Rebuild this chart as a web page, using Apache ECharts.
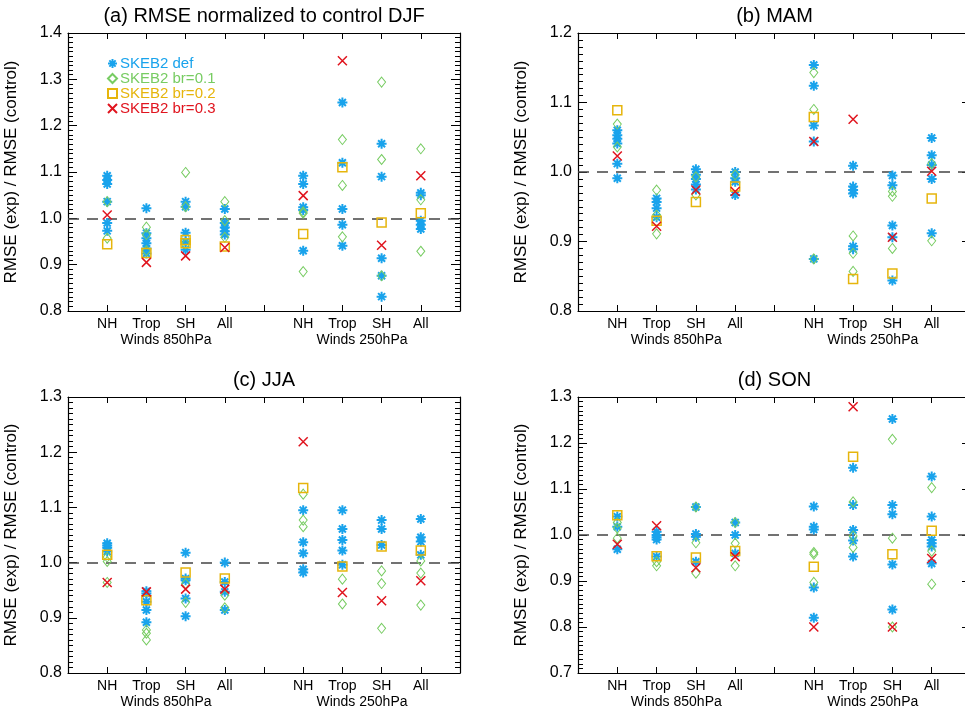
<!DOCTYPE html>
<html>
<head>
<meta charset="utf-8">
<script src="https://cdn.jsdelivr.net/npm/echarts@6/dist/echarts.min.js"></script>
<style>
html, body { margin: 0; padding: 0; background: #fff; }
#main { width: 965px; height: 710px; }
</style>
</head>
<body>
<div id="main"></div>
<script>
// x axis: categories sit at 1..4 and 6..9 on a 0..10 value axis
var xTickLabels = ['', 'NH', 'Trop', 'SH', 'All', '', 'NH', 'Trop', 'SH', 'All', ''];
var catPos = [1, 2, 3, 4, 6, 7, 8, 9];
var groupLabels = { '2.5': 'Winds 850hPa', '7.5': 'Winds 250hPa' };
var seriesNames = ['SKEB2 def', 'SKEB2 br=0.1', 'SKEB2 br=0.2', 'SKEB2 br=0.3'];
var panelTitles = ['(a) RMSE normalized to control DJF', '(b) MAM', '(c) JJA', '(d) SON'];
var yMin = [0.8, 0.8, 0.8, 0.7];
var yMax = [1.4, 1.2, 1.3, 1.3];
var refValue = 1.0;

// one sub-array per category: NH, Trop, SH, All (850hPa) then NH, Trop, SH, All (250hPa)
var djfDef = [[1.092, 1.083, 1.074, 1.036, 0.99, 0.973], [1.022, 0.968, 0.957, 0.946, 0.935, 0.924], [1.036, 1.025, 0.969, 0.95, 0.932], [1.02, 0.99, 0.98, 0.972, 0.965],
              [1.092, 1.074, 1.024, 1.018, 0.93], [1.25, 1.12, 1.02, 0.986, 0.941], [1.161, 1.09, 0.914, 0.876, 0.831], [1.055, 1.05, 0.995, 0.986, 0.977]];
var djfBr1 = [[1.036, 0.957], [0.981, 0.965, 0.93], [1.099, 1.025, 0.945], [1.036, 0.995, 0.959],
              [1.014, 1.011, 0.885], [1.17, 1.071, 0.96], [1.294, 1.127, 0.876], [1.15, 1.04, 0.929]];
var djfBr2 = [[0.944], [0.925], [0.953, 0.946], [0.939], [0.966], [1.11], [0.991], [1.011]];
var djfBr3 = [[1.007], [0.905], [0.919], [0.937], [1.049], [1.34], [0.942], [1.092]];

var mamDef = [[1.06, 1.053, 1.048, 1.041, 1.012, 0.991], [0.962, 0.957, 0.948, 0.935], [1.004, 0.996, 0.99, 0.982, 0.975], [1.0, 0.991, 0.986, 0.967],
              [1.154, 1.124, 1.067, 1.044, 0.875], [1.009, 0.979, 0.974, 0.969, 0.893, 0.889], [0.995, 0.981, 0.923, 0.906, 0.844], [1.049, 1.024, 1.01, 0.99, 0.912]];
var mamBr1 = [[1.069, 1.036], [0.974, 0.938, 0.911], [0.993, 0.967], [0.996],
              [1.143, 1.09, 0.875], [0.908, 0.883, 0.857], [0.972, 0.965, 0.89], [1.012, 0.901]];
var mamBr2 = [[1.089], [0.93], [0.957], [0.979], [1.079], [0.846], [0.854], [0.962]];
var mamBr3 = [[1.023], [0.922], [0.974], [0.972], [1.044], [1.076], [0.906], [1.001]];

var jjaDef = [[1.035, 1.031, 1.027, 1.02], [0.948, 0.944, 0.929, 0.914, 0.892], [1.018, 0.971, 0.968, 0.935, 0.903], [1.0, 0.965, 0.947, 0.914],
              [1.095, 1.037, 1.017, 0.988, 0.982], [1.095, 1.061, 1.041, 1.022, 0.996], [1.077, 1.061, 1.032], [1.079, 1.046, 1.038, 1.014]];
var jjaBr1 = [[1.01, 1.002, 0.964], [0.878, 0.872, 0.86], [0.962, 0.928], [0.941, 0.918],
              [1.124, 1.077, 1.065], [0.97, 0.925], [0.985, 0.962, 0.881], [1.003, 0.981, 0.923]];
var jjaBr2 = [[1.014], [0.932], [0.982], [0.971], [1.135], [0.993], [1.029], [1.022]];
var jjaBr3 = [[0.964], [0.947], [0.952], [0.952], [1.219], [0.946], [0.931], [0.967]];

var sonDef = [[1.04, 1.018, 0.969], [1.007, 1.0, 0.995, 0.99, 0.953], [1.061, 1.002, 0.996, 0.942], [1.027, 1.0, 0.96],
              [1.062, 1.018, 1.012, 0.886, 0.82], [1.146, 1.065, 1.011, 0.988, 0.953], [1.252, 1.065, 1.045, 0.936, 0.838], [1.127, 1.04, 0.989, 0.982, 0.975, 0.938]];
var sonBr1 = [[1.027, 1.015, 0.993], [0.942, 0.933], [1.061, 0.983, 0.917], [1.027, 0.982, 0.933],
              [0.962, 0.958, 0.897], [1.072, 0.998, 0.973], [1.208, 0.993, 0.8], [1.103, 0.965, 0.893]];
var sonBr2 = [[1.043], [0.954], [0.951], [0.965], [0.931], [1.17], [0.958], [1.009]];
var sonBr3 = [[0.98], [1.02], [0.929], [0.953], [0.8], [1.279], [0.8], [0.949]];

var panelData = [
  [djfDef, djfBr1, djfBr2, djfBr3],
  [mamDef, mamBr1, mamBr2, mamBr3],
  [jjaDef, jjaBr1, jjaBr2, jjaBr3],
  [sonDef, sonBr1, sonBr2, sonBr3]
];

var FONT = '"Liberation Sans", Helvetica, Arial, sans-serif';
var colors = ['#19a3ec', '#77cc62', '#e6b50c', '#e0141e'];
var symbols = [
  'path://M0,-10L0,10M-10,0L10,0M-7,-7L7,7M-7,7L7,-7',
  'diamond',
  'rect',
  'path://M-10,-10L10,10M-10,10L10,-10'
];
var symbolSizes = [[10, 10], [8, 10], [9, 9], [9, 9]];
var borderWidths = [2, 1, 1.5, 1.5];

var grids = [
  { left: 68, top: 33, width: 392, height: 278 },
  { left: 578, top: 33, width: 393, height: 278 },
  { left: 68, top: 397, width: 392, height: 276 },
  { left: 578, top: 397, width: 393, height: 276 }
];

var chart = echarts.init(document.getElementById('main'));

var option = {
  animation: false,
  backgroundColor: '#fff',
  textStyle: { fontFamily: FONT },
  title: [],
  grid: [],
  xAxis: [],
  yAxis: [],
  legend: {
    orient: 'vertical',
    left: 102,
    top: 51,
    itemWidth: 9,
    itemHeight: 9,
    itemGap: 0,
    selectedMode: false,
    textStyle: { fontSize: 15, fontFamily: FONT, padding: [0, 0, 0, -2] },
    data: seriesNames.map(function (n, i) {
      return { name: n, textStyle: { color: colors[i] } };
    })
  },
  series: []
};

var axisLine = { show: true, onZero: false, lineStyle: { color: '#000', width: 1.2 } };
var tickStyle = { color: '#000', width: 1 };

grids.forEach(function (g, p) {
  option.grid.push({ left: g.left, top: g.top, width: g.width, height: g.height, outerBoundsMode: 'none', containLabel: false });
  option.title.push({
    text: panelTitles[p],
    left: g.left + g.width / 2,
    top: g.top - 27,
    textAlign: 'center',
    padding: 0,
    textStyle: { fontSize: 20, fontWeight: 'normal', color: '#000', fontFamily: FONT }
  });

  // bottom axis with region labels
  option.xAxis.push({
    type: 'value', gridIndex: p, position: 'bottom', min: 0, max: 10, interval: 1,
    axisLine: axisLine,
    axisTick: { show: true, inside: true, length: 6, lineStyle: tickStyle },
    splitLine: { show: false },
    axisLabel: {
      color: '#000', fontSize: 14, fontFamily: FONT, margin: 6, showMinLabel: true, showMaxLabel: true,
      formatter: function (v) { return xTickLabels[Math.round(v)] || ''; }
    }
  });
  // group labels under the region labels
  option.xAxis.push({
    type: 'value', gridIndex: p, position: 'bottom', offset: 0, min: 0, max: 10, interval: 2.5,
    axisLine: { show: false }, axisTick: { show: false }, splitLine: { show: false },
    axisLabel: {
      color: '#000', fontSize: 14, fontFamily: FONT, margin: 22, showMinLabel: true, showMaxLabel: true,
      formatter: function (v) { return groupLabels[String(v)] || ''; }
    }
  });
  // mirrored top axis
  option.xAxis.push({
    type: 'value', gridIndex: p, position: 'top', min: 0, max: 10, interval: 1,
    axisLine: axisLine,
    axisTick: { show: true, inside: true, length: 6, lineStyle: tickStyle },
    splitLine: { show: false }, axisLabel: { show: false }
  });

  option.yAxis.push({
    type: 'value', gridIndex: p, position: 'left', min: yMin[p], max: yMax[p], interval: 0.1,
    name: 'RMSE (exp) / RMSE (control)', nameLocation: 'middle', nameGap: 48, nameRotate: 90,
    nameTextStyle: { fontSize: 17, color: '#000', fontFamily: FONT },
    axisLine: axisLine,
    axisTick: { show: true, inside: true, length: 9, lineStyle: tickStyle },
    minorTick: { show: true, splitNumber: 10, length: 5, lineStyle: tickStyle },
    splitLine: { show: false }, minorSplitLine: { show: false },
    axisLabel: {
      color: '#000', fontSize: 16, fontFamily: FONT, margin: 6, showMinLabel: true, showMaxLabel: true,
      formatter: function (v) { return v.toFixed(1); }
    }
  });
  option.yAxis.push({
    type: 'value', gridIndex: p, position: 'right', min: yMin[p], max: yMax[p], interval: 0.1,
    axisLine: axisLine,
    axisTick: { show: true, inside: true, length: 9, lineStyle: tickStyle },
    minorTick: { show: true, splitNumber: 10, length: 5, lineStyle: tickStyle },
    splitLine: { show: false }, minorSplitLine: { show: false }, axisLabel: { show: false }
  });

  panelData[p].forEach(function (vals, s) {
    var data = [];
    vals.forEach(function (list, c) {
      list.forEach(function (v) { data.push([catPos[c], v]); });
    });
    var ser = {
      type: 'scatter',
      name: seriesNames[s],
      xAxisIndex: p * 3,
      yAxisIndex: p * 2,
      symbol: symbols[s],
      symbolSize: symbolSizes[s],
      itemStyle: { color: 'rgba(0,0,0,0)', borderColor: colors[s], borderWidth: borderWidths[s], opacity: 1 },
      emphasis: { disabled: true },
      z: 3 + s,
      data: data
    };
    if (s === 0) {
      ser.markLine = {
        silent: true, symbol: ['none', 'none'], label: { show: false }, z: 1,
        lineStyle: { color: '#444', type: [11, 8], width: 1.5 },
        emphasis: { disabled: true },
        data: [{ yAxis: refValue }]
      };
    }
    option.series.push(ser);
  });
});

chart.setOption(option);
</script>
</body>
</html>
